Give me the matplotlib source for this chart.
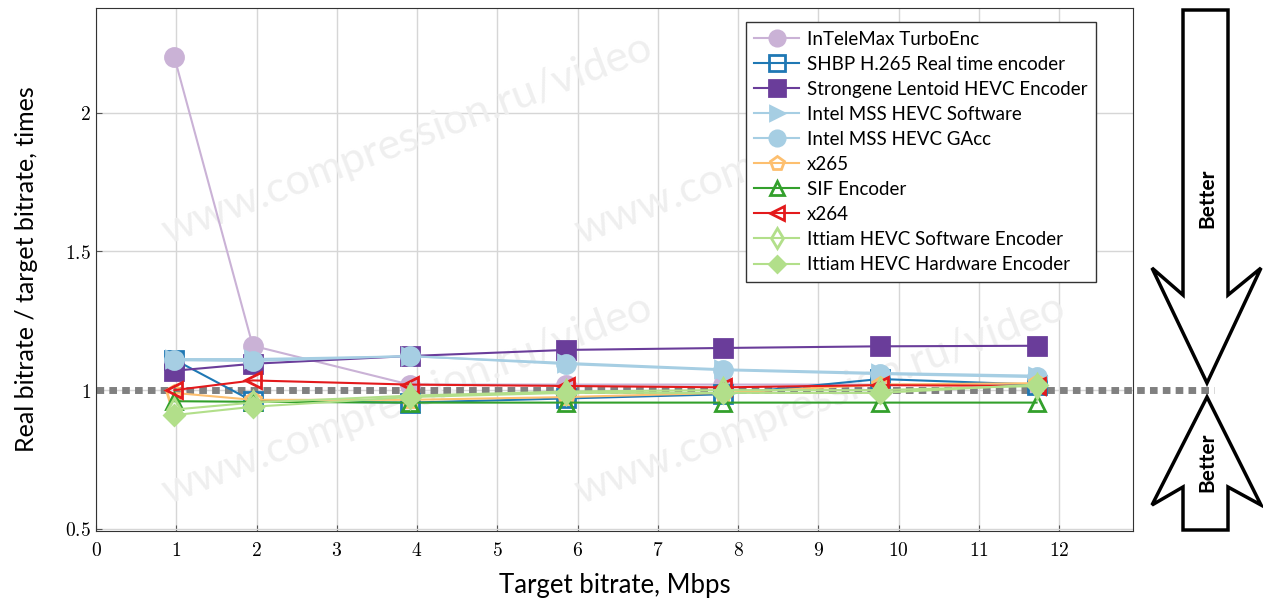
#Encoder bitrate accuracy chart

import numpy as np
import matplotlib.pyplot as plt
from matplotlib.patches import Polygon
from matplotlib.transforms import Affine2D
from matplotlib.ticker import FuncFormatter, MultipleLocator

plt.rcParams['font.family'] = ['Lato', 'DejaVu Sans']
plt.rcParams['mathtext.fontset'] = 'cm'

# target bitrates, Mbps
target = [0.977, 1.953, 3.906, 5.859, 7.813, 9.766, 11.719]

names = ['InTeleMax TurboEnc', 'SHBP H.265 Real time encoder', 'Strongene Lentoid HEVC Encoder',
         'Intel MSS HEVC Software', 'Intel MSS HEVC GAcc', 'x265', 'SIF Encoder', 'x264',
         'Ittiam HEVC Software Encoder', 'Ittiam HEVC Hardware Encoder']

intelemax = [2.20, 1.16, 1.02, 1.02, 1.02, 1.02, 1.02]
shbp = [1.11, 0.96, 0.955, 0.97, 0.985, 1.04, 1.02]
strongene = [1.07, 1.095, 1.123, 1.145, 1.152, 1.158, 1.16]
intel_sw = [1.112, 1.112, 1.122, 1.098, 1.075, 1.062, 1.052]
intel_gacc = [1.108, 1.105, 1.123, 1.094, 1.072, 1.058, 1.047]
x265 = [0.99, 0.965, 0.965, 0.975, 0.99, 1.02, 1.025]
sif = [0.96, 0.958, 0.955, 0.955, 0.955, 0.955, 0.955]
x264 = [1.0, 1.035, 1.02, 1.015, 1.01, 1.018, 1.015]
ittiam_sw = [0.93, 0.955, 0.98, 0.995, 1.0, 1.0, 1.015]
ittiam_hw = [0.91, 0.94, 0.975, 0.99, 0.99, 0.99, 1.02]

series = [intelemax, shbp, strongene, intel_sw, intel_gacc, x265, sif, x264, ittiam_sw, ittiam_hw]
colors = ['#cab2d6', '#1f78b4', '#6a3d9a', '#a6cee3', '#a6cee3', '#fdbf6f', '#33a02c', '#e31a1c',
          '#b2df8a', '#b2df8a']
markers = ['o', 's', 's', '>', 'o', 'p', '^', '<', 'd', 'D']
filled = [True, False, True, True, True, False, False, False, False, True]

fig = plt.figure(figsize=(12.63, 6.06), dpi=100)
ax = fig.add_axes([96/1263, 1-531/606, (1133-96)/1263, (531-8)/606])

# figure pixel transform (y from top)
pix = Affine2D().scale(1/1263, -1/606).translate(0, 1) + fig.transFigure

# watermarks
for cx, cy in [(407, 140), (820, 140), (407, 400), (820, 400)]:
    ax.text(cx, cy, 'www.compression.ru/video', transform=pix, rotation=21, fontsize=31,
            color='#efefef', ha='center', va='center', zorder=1)

for i in range(len(series)):
    mfc = colors[i] if filled[i] else 'none'
    ms = 13 if markers[i] in ['o', 's'] else 12
    if markers[i] == 'D':
        ms = 10
    ax.plot(target, series[i], color=colors[i], lw=1.5, marker=markers[i], ms=ms,
            mfc=mfc, mec=colors[i], mew=2, label=names[i], zorder=3+i*0.1)

# reference line at 1
ax.plot([0, 13.93], [1, 1], color='#808080', lw=5, ls=(0, (1.1, 0.75)), clip_on=False, zorder=2.5)

ax.set_xlim(0, 12.92)
ax.set_ylim(0.492, 2.378)
ax.xaxis.set_major_locator(MultipleLocator(1))
ax.yaxis.set_major_locator(MultipleLocator(0.5))
fmt = FuncFormatter(lambda v, p: '$%g$' % v)
ax.xaxis.set_major_formatter(fmt)
ax.yaxis.set_major_formatter(fmt)
ax.tick_params(direction='in', labelsize=14, length=4, color='#555555')
ax.tick_params(axis='x', pad=7)
ax.grid(True, color='#d6d6d6', lw=1)
ax.set_axisbelow(True)
for s in ax.spines.values():
    s.set_color('#333333')

ax.set_xlabel('Target bitrate, Mbps', fontsize=18.5, labelpad=10)
ax.set_ylabel('Real bitrate / target bitrate, times', fontsize=18, labelpad=20)

leg = ax.legend(loc='upper right', bbox_to_anchor=(0.964, 0.973), borderaxespad=0,
                fontsize=13.5, fancybox=False, framealpha=1, edgecolor='#333333',
                handlelength=2.4, labelspacing=0.43, borderpad=0.45, handletextpad=0.4,
                markerscale=0.85)
leg.get_frame().set_linewidth(1)
leg.set_zorder(10)

# "Better" arrows
down = [(1183, 10), (1228, 10), (1228, 295), (1261, 268), (1207, 383), (1152, 268), (1183, 295)]
up = [(1183, 530), (1228, 530), (1228, 487), (1261, 505), (1207, 397), (1152, 505), (1183, 487)]
for pts in [down, up]:
    fig.add_artist(Polygon(pts, closed=True, transform=pix, facecolor='white',
                           edgecolor='black', lw=2.5, zorder=5))
fig.text(1207, 198, 'Better', transform=pix, rotation=90, fontsize=15, fontweight='bold',
         ha='center', va='center', zorder=6)
fig.text(1207, 462, 'Better', transform=pix, rotation=90, fontsize=15, fontweight='bold',
         ha='center', va='center', zorder=6)

plt.savefig('out.png', dpi=100)
